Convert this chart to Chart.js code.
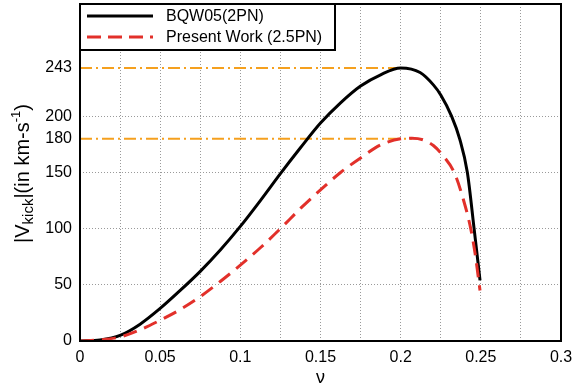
<!DOCTYPE html>
<html>
<head>
<meta charset="utf-8">
<script src="https://cdn.jsdelivr.net/npm/chart.js@4.4.0/dist/chart.umd.min.js"></script>
<style>
  html, body { margin: 0; padding: 0; background: #fff; }
</style>
</head>
<body>
<canvas id="kick" width="577" height="389"></canvas>
<script>
// ===== DATA =====
const nuBqw = [0, 0.0125, 0.025, 0.0375, 0.05, 0.0625, 0.075, 0.0875, 0.1, 0.1125, 0.125, 0.1375, 0.15,
  0.1625, 0.175, 0.1875, 0.2, 0.2121, 0.2204, 0.225, 0.2318, 0.2368, 0.2416, 0.2458, 0.2495];
const vBqw = [0, 1, 5, 15, 29, 45, 62, 81, 102, 125, 149, 172, 194,
  212, 227, 237, 243, 239, 228, 219, 200, 180, 150, 100, 54];

const nuPw = [0, 0.0125, 0.025, 0.0375, 0.05, 0.0625, 0.075, 0.0875, 0.1, 0.1125, 0.125, 0.1375, 0.15,
  0.1625, 0.175, 0.1875, 0.2, 0.207, 0.2141, 0.2204, 0.2267, 0.2334, 0.2391, 0.2437, 0.2464, 0.2495];
const vPw = [0, 1, 3.6, 10, 18.5, 28, 39.5, 53, 67.5, 83, 100, 118, 134.5,
  150, 163, 174.5, 180, 180.5, 179, 174, 164.5, 150, 126, 100, 78, 45];

// peak guide lines
const peakValues = [243, 180];
const peakNu = [0.2, 0.207];

const yTicks = [0, 50, 100, 150, 180, 200, 243];
const yGrid = [50, 100, 150, 200];

const FONT = "'Liberation Sans', Arial, Helvetica, sans-serif";
const toPts = (xs, ys) => xs.map((x, i) => ({ x, y: ys[i] }));

// frame, legend box and y title with sub/superscripts
const decor = {
  id: 'decor',
  afterDraw(chart) {
    const { ctx, chartArea: a } = chart;
    ctx.save();
    ctx.strokeStyle = '#000';
    ctx.lineWidth = 2;
    ctx.strokeRect(a.left, a.top, a.right - a.left, a.bottom - a.top);

    // legend
    const bx = a.left, by = a.top, bw = 255, bh = 46;
    ctx.fillStyle = '#fff';
    ctx.fillRect(bx, by, bw, bh);
    ctx.lineWidth = 2;
    ctx.strokeRect(bx, by, bw, bh);
    const rows = [
      { label: 'BQW05(2PN)', color: '#000', dash: [] },
      { label: 'Present Work (2.5PN)', color: '#e2302a', dash: [14, 7] }
    ];
    rows.forEach((r, i) => {
      const y = by + 12 + i * 21;
      ctx.beginPath();
      ctx.setLineDash(r.dash);
      ctx.strokeStyle = r.color;
      ctx.lineWidth = 3;
      ctx.moveTo(bx + 7, y);
      ctx.lineTo(bx + 73, y);
      ctx.stroke();
      ctx.setLineDash([]);
      ctx.fillStyle = '#000';
      ctx.font = '16px ' + FONT;
      ctx.textBaseline = 'middle';
      ctx.fillText(r.label, bx + 86, y + 1);
    });

    // y axis title
    const parts = [
      { t: '|V', s: 20, dy: 0 },
      { t: 'kick', s: 15, dy: 4 },
      { t: '|(in km-s', s: 20, dy: 0 },
      { t: '-1', s: 13, dy: -9 },
      { t: ')', s: 20, dy: 0 }
    ];
    let total = 0;
    parts.forEach(p => { ctx.font = p.s + 'px ' + FONT; p.w = ctx.measureText(p.t).width; total += p.w; });
    ctx.translate(29, (a.top + a.bottom) / 2 + 1);
    ctx.rotate(-Math.PI / 2);
    ctx.textBaseline = 'alphabetic';
    ctx.fillStyle = '#000';
    let x = -total / 2;
    parts.forEach(p => {
      ctx.font = p.s + 'px ' + FONT;
      ctx.fillText(p.t, x, p.dy);
      x += p.w;
    });
    ctx.restore();
  }
};

const guide = (v, i) => ({
  data: [{ x: 0, y: v }, { x: peakNu[i], y: v }],
  borderColor: '#f5a01e',
  borderWidth: 2,
  borderDash: [12, 4, 2, 4],
  pointRadius: 0,
  showLine: true,
  order: 3
});

new Chart(document.getElementById('kick'), {
  type: 'scatter',
  data: {
    datasets: [
      ...peakValues.map(guide),
      {
        label: 'BQW05(2PN)',
        data: toPts(nuBqw, vBqw),
        borderColor: '#000',
        borderWidth: 3,
        pointRadius: 0,
        showLine: true,
        cubicInterpolationMode: 'monotone',
        order: 2
      },
      {
        label: 'Present Work (2.5PN)',
        data: toPts(nuPw, vPw),
        borderColor: '#e2302a',
        borderWidth: 3,
        borderDash: [14, 8],
        pointRadius: 0,
        showLine: true,
        cubicInterpolationMode: 'monotone',
        order: 1
      }
    ]
  },
  options: {
    responsive: false,
    animation: false,
    layout: { padding: { top: 4, right: 16, left: 0, bottom: 0 } },
    plugins: { legend: { display: false }, tooltip: { enabled: false } },
    scales: {
      x: {
        type: 'linear',
        min: 0,
        max: 0.3,
        afterBuildTicks: s => {
          s.ticks = [];
          for (let i = 0; i <= 12; i++) s.ticks.push({ value: +(i * 0.025).toFixed(3) });
        },
        afterFit: s => { s.height = 48; s.paddingLeft = 0; s.paddingRight = 0; },
        grid: {
          drawTicks: false,
          lineWidth: 1,
          color: c => (c.tick && c.tick.value > 0 && c.tick.value < 0.3) ? '#9a9a9a' : 'rgba(0,0,0,0)'
        },
        border: { display: false, dash: [1, 2] },
        ticks: {
          padding: 7,
          color: '#000',
          font: { family: FONT, size: 16 },
          maxRotation: 0,
          autoSkip: false,
          callback: v => (Math.round(v * 1000) % 50 === 0) ? String(+v.toFixed(2)) : ''
        },
        title: {
          display: true,
          text: 'ν',
          color: '#000',
          font: { family: FONT, size: 18 },
          padding: { top: 0, bottom: 0 }
        }
      },
      y: {
        min: 0,
        max: 300,
        afterBuildTicks: s => { s.ticks = yTicks.map(v => ({ value: v })); },
        afterFit: s => { s.width = 80; s.paddingTop = 0; s.paddingBottom = 0; },
        grid: {
          drawTicks: false,
          lineWidth: 1,
          color: c => (c.tick && yGrid.includes(c.tick.value)) ? '#9a9a9a' : 'rgba(0,0,0,0)'
        },
        border: { display: false, dash: [1, 2] },
        ticks: {
          padding: 8,
          color: '#000',
          font: { family: FONT, size: 16 },
          autoSkip: false
        }
      }
    }
  },
  plugins: [decor]
});
</script>
</body>
</html>
